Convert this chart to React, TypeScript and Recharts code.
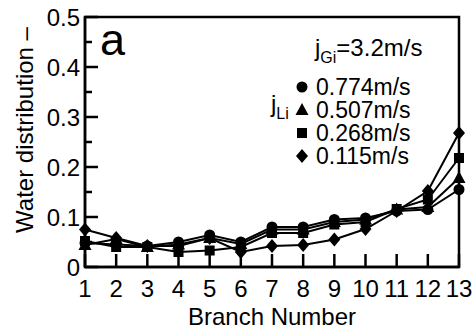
import { LineChart, Line, XAxis, YAxis, ReferenceArea } from 'recharts'

const branches = [1, 2, 3, 4, 5, 6, 7, 8, 9, 10, 11, 12, 13]
const jLi0774 = [0.048, 0.045, 0.042, 0.05, 0.064, 0.05, 0.08, 0.08, 0.095, 0.098, 0.112, 0.115, 0.155]
const jLi0507 = [0.044, 0.056, 0.04, 0.045, 0.058, 0.046, 0.075, 0.075, 0.09, 0.095, 0.115, 0.12, 0.178]
const jLi0268 = [0.052, 0.04, 0.04, 0.03, 0.033, 0.04, 0.068, 0.068, 0.085, 0.09, 0.116, 0.135, 0.218]
const jLi0115 = [0.075, 0.058, 0.042, 0.042, 0.058, 0.03, 0.042, 0.044, 0.055, 0.076, 0.112, 0.152, 0.268]
const yTicks = [0, 0.05, 0.1, 0.15, 0.2, 0.25, 0.3, 0.35, 0.4, 0.45, 0.5]
const legendLabels = ['0.774m/s', '0.507m/s', '0.268m/s', '0.115m/s']

const data = branches.map((b, i) => ({
  branch: b,
  s774: jLi0774[i],
  s507: jLi0507[i],
  s268: jLi0268[i],
  s115: jLi0115[i],
}))

const FONT = '"Liberation Sans", Arial, sans-serif'

type Shape = 'circle' | 'triangle' | 'square' | 'diamond'

function marker(shape: Shape, cx: number, cy: number, key?: string) {
  if (shape === 'circle') return <circle key={key} cx={cx} cy={cy} r={5.5} fill="#000" />
  if (shape === 'triangle')
    return <polygon key={key} points={`${cx},${cy - 7} ${cx - 6.5},${cy + 5} ${cx + 6.5},${cy + 5}`} fill="#000" />
  if (shape === 'square') return <rect key={key} x={cx - 5} y={cy - 5} width={10} height={10} fill="#000" />
  return <polygon key={key} points={`${cx},${cy - 7} ${cx + 6},${cy} ${cx},${cy + 7} ${cx - 6},${cy}`} fill="#000" />
}

const dotFor = (shape: Shape) => (props: any) => marker(shape, props.cx, props.cy, `${shape}-${props.index}`)

const XTick = (props: any) => {
  const { x, y, payload } = props
  return (
    <g>
      <line x1={x} y1={y} x2={x} y2={y - 13} stroke="#000" strokeWidth={2.5} />
      <text x={x} y={y + 30} textAnchor="middle" fontSize={24} fontFamily={FONT} fill="#000">
        {payload.value}
      </text>
    </g>
  )
}

const YTick = (props: any) => {
  const { x, y, payload } = props
  const major = Math.round(payload.value * 100) % 10 === 0
  const label = payload.value === 0 ? '0' : payload.value.toFixed(1)
  return (
    <g>
      <line x1={x} y1={y} x2={x + (major ? 13 : 7)} y2={y} stroke="#000" strokeWidth={2.5} />
      {major && (
        <text x={x - 5} y={y + 8.5} textAnchor="end" fontSize={24} fontFamily={FONT} fill="#000">
          {label}
        </text>
      )}
    </g>
  )
}

const shapes: Shape[] = ['circle', 'triangle', 'square', 'diamond']
const legendBaselines = [95, 118, 141, 164]

export default function App() {
  return (
    <div style={{ width: 475, height: 333, background: '#fff' }}>
      <style>{'body{margin:0}'}</style>
      <LineChart width={475} height={333} data={data} margin={{ top: 17, right: 16, bottom: 0, left: 0 }}>
        <XAxis
          dataKey="branch"
          type="number"
          domain={[1, 13]}
          ticks={branches}
          interval={0}
          tickSize={0}
          tickMargin={0}
          tickLine={false}
          tick={<XTick />}
          height={66}
          axisLine={{ stroke: '#000', strokeWidth: 2.5 }}
        />
        <YAxis
          type="number"
          domain={[0, 0.5]}
          ticks={yTicks}
          interval={0}
          tickSize={0}
          tickMargin={0}
          tickLine={false}
          tick={<YTick />}
          width={85}
          axisLine={{ stroke: '#000', strokeWidth: 2.5 }}
        />
        <ReferenceArea x1={1} x2={13} y1={0} y2={0.5} fill="none" stroke="#000" strokeWidth={2.5} ifOverflow="visible" />
        <Line dataKey="s774" stroke="#000" strokeWidth={2} dot={dotFor('circle')} isAnimationActive={false} />
        <Line dataKey="s507" stroke="#000" strokeWidth={2} dot={dotFor('triangle')} isAnimationActive={false} />
        <Line dataKey="s268" stroke="#000" strokeWidth={2} dot={dotFor('square')} isAnimationActive={false} />
        <Line dataKey="s115" stroke="#000" strokeWidth={2} dot={dotFor('diamond')} isAnimationActive={false} />

        <text x={272} y={325} textAnchor="middle" fontSize={24} fontFamily={FONT} fill="#000">
          Branch Number
        </text>
        <text
          x={33}
          y={130}
          transform="rotate(-90 33 130)"
          textAnchor="middle"
          fontSize={24}
          fontFamily={FONT}
          fill="#000"
        >
          Water distribution –
        </text>
        <text x={100} y={55} fontSize={45} fontFamily={FONT} fill="#000">
          a
        </text>
        <text x={315} y={56} fontSize={24} fontFamily={FONT} fill="#000">
          <tspan>j</tspan>
          <tspan fontSize={16} dy={7}>Gi</tspan>
          <tspan dy={-7}>=3.2m/s</tspan>
        </text>
        <text x={271} y={112} fontSize={24} fontFamily={FONT} fill="#000">
          <tspan>j</tspan>
          <tspan fontSize={16} dy={7}>Li</tspan>
        </text>
        {legendLabels.map((l, i) => (
          <g key={l}>
            {marker(shapes[i], 302, legendBaselines[i] - 8)}
            <text x={316} y={legendBaselines[i]} fontSize={23} fontFamily={FONT} fill="#000">
              {l}
            </text>
          </g>
        ))}
      </LineChart>
    </div>
  )
}
